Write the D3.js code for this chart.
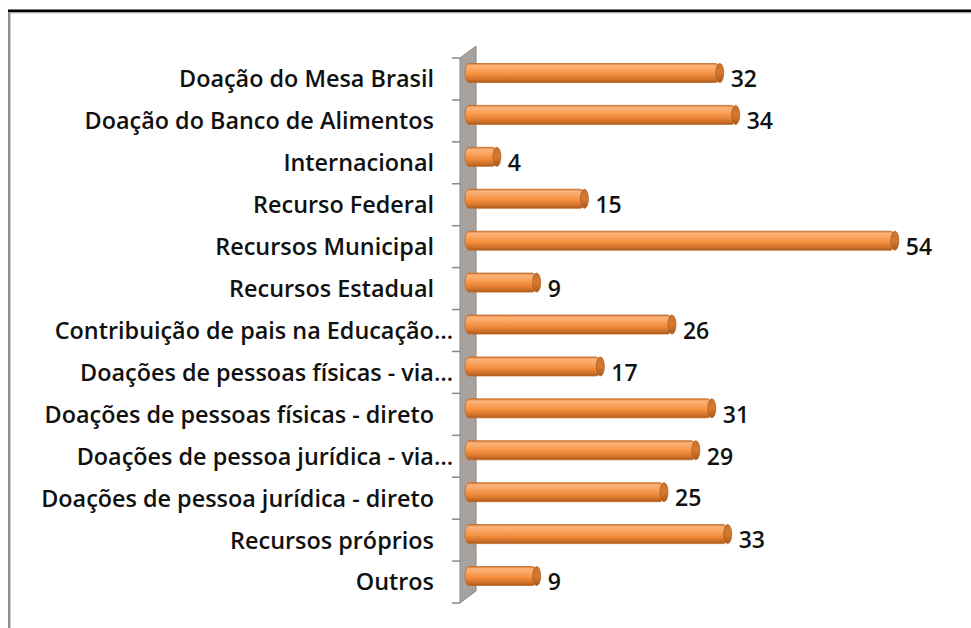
<!DOCTYPE html>
<html>
<head>
<meta charset="utf-8">
<script src="https://cdn.jsdelivr.net/npm/d3@7"></script>
<style>
  html, body { margin: 0; padding: 0; background: #fff; }
  svg { display: block; }
  text { font-family: "Open Sans", sans-serif; font-weight: 600; fill: #111; }
</style>
</head>
<body>
<svg id="chart" width="971" height="628"></svg>
<script>
const categories = [
  "Doação do Mesa Brasil",
  "Doação do Banco de Alimentos",
  "Internacional",
  "Recurso Federal",
  "Recursos Municipal",
  "Recursos Estadual",
  "Contribuição de pais na Educação…",
  "Doações de pessoas físicas - via…",
  "Doações de pessoas físicas - direto",
  "Doações de pessoa jurídica - via…",
  "Doações de pessoa jurídica - direto",
  "Recursos próprios",
  "Outros"
];
const values = [32, 34, 4, 15, 54, 9, 26, 17, 31, 29, 25, 33, 9];

const svg = d3.select("#chart");
const defs = svg.append("defs");

const g1 = defs.append("linearGradient").attr("id", "barGrad")
  .attr("x1", 0).attr("y1", 0).attr("x2", 0).attr("y2", 1);
[[0, "#d9782e"], [0.12, "#fbb47c"], [0.35, "#f9a25c"], [0.6, "#f28c3c"], [0.85, "#d0712a"], [1, "#a85a1c"]]
  .forEach(([o, c]) => g1.append("stop").attr("offset", o).attr("stop-color", c));

const g2 = defs.append("linearGradient").attr("id", "capGrad")
  .attr("x1", 0).attr("y1", 0).attr("x2", 0).attr("y2", 1);
[[0, "#c8702c"], [0.5, "#d67a30"], [1, "#a95a1c"]]
  .forEach(([o, c]) => g2.append("stop").attr("offset", o).attr("stop-color", c));

// Frame
svg.append("line").attr("x1", 8).attr("x2", 971).attr("y1", 11).attr("y2", 11)
  .attr("stroke", "#000").attr("stroke-width", 3);
svg.append("line").attr("x1", 8).attr("x2", 971).attr("y1", 13).attr("y2", 13)
  .attr("stroke", "#c8c8c8").attr("stroke-width", 1);
svg.append("line").attr("x1", 9).attr("x2", 9).attr("y1", 12).attr("y2", 628)
  .attr("stroke", "#8e8e8e").attr("stroke-width", 2);
svg.append("line").attr("x1", 10.5).attr("x2", 10.5).attr("y1", 13).attr("y2", 628)
  .attr("stroke", "#d0d0d0").attr("stroke-width", 1);

const y = d3.scaleBand().domain(categories).range([58, 603]).padding(0);
const x = d3.scaleLinear().domain([0, 60]).range([465, 465 + 60 * 7.96]);

// 3D wall
const wallX = 460, depth = 16, rise = 12;
svg.append("polygon")
  .attr("points", [
    [wallX, y.range()[0]], [wallX + depth, y.range()[0] - rise],
    [wallX + depth, y.range()[1] - rise], [wallX, y.range()[1]]
  ].map(p => p.join(",")).join(" "))
  .attr("fill", "#a7a29e").attr("stroke", "#8a8683").attr("stroke-width", 1);

// Ticks
const tickPos = categories.map(c => y(c)).concat([y.range()[1]]);
svg.append("g").selectAll("line").data(tickPos).join("line")
  .attr("x1", wallX - 8).attr("x2", wallX).attr("y1", d => d).attr("y2", d => d)
  .attr("stroke", "#8a8a8a").attr("stroke-width", 1.5);

const barH = 19, shift = 6;
const bars = svg.append("g").selectAll("g").data(categories).join("g");
bars.append("rect")
  .attr("x", x(0))
  .attr("y", d => y(d) + y.bandwidth() / 2 - shift - barH / 2)
  .attr("width", (d, i) => x(values[i]) - x(0))
  .attr("height", barH)
  .attr("rx", 4).attr("ry", barH / 2)
  .attr("fill", "url(#barGrad)")
  .attr("stroke", "#c06a26").attr("stroke-width", 0.8);
bars.append("ellipse")
  .attr("cx", (d, i) => x(values[i]))
  .attr("cy", d => y(d) + y.bandwidth() / 2 - shift)
  .attr("rx", 4).attr("ry", barH / 2)
  .attr("fill", "url(#capGrad)")
  .attr("stroke", "#b0601f").attr("stroke-width", 0.8);

// Value labels
svg.append("g").selectAll("text").data(categories).join("text")
  .attr("x", (d, i) => x(values[i]) + 11)
  .attr("y", d => y(d) + y.bandwidth() / 2)
  .attr("dy", "0.36em")
  .attr("font-size", 23)
  .text((d, i) => values[i]);

// Category labels
svg.append("g").selectAll("text").data(categories).join("text")
  .attr("x", d => d.endsWith("…") ? 453 : 434)
  .attr("y", d => y(d) + y.bandwidth() / 2)
  .attr("dy", "0.36em")
  .attr("text-anchor", "end")
  .attr("font-size", 23.4)
  .text(d => d);
</script>
</body>
</html>
